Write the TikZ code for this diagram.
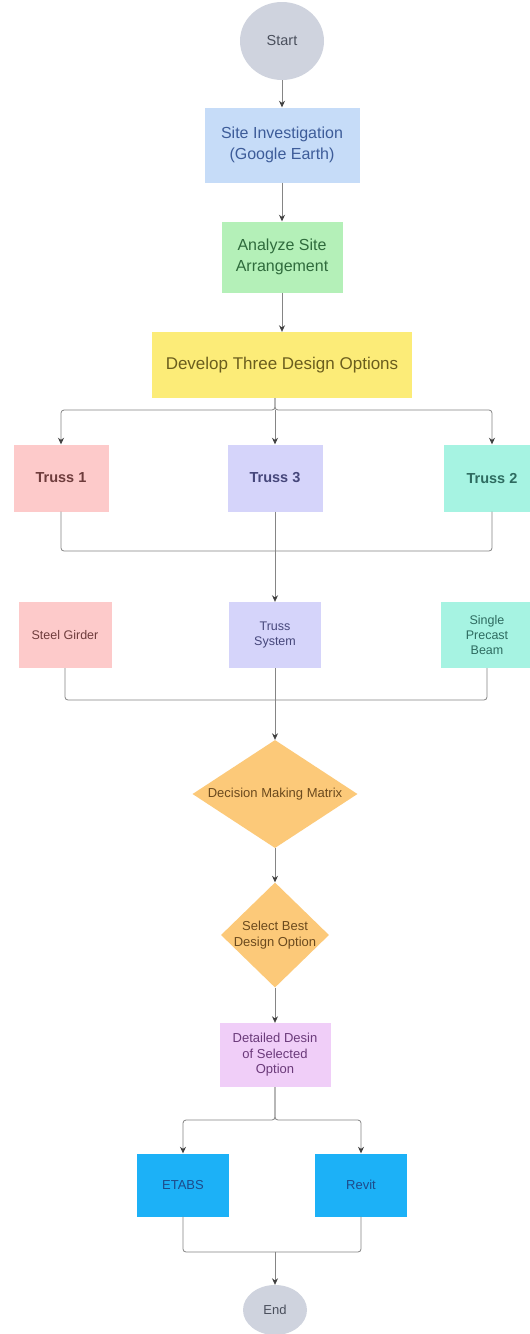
\documentclass[tikz,border=0pt]{standalone}
\usepackage{fontspec}
\setmainfont{Liberation Sans}
\usetikzlibrary{shapes.geometric,arrows.meta}
\definecolor{cgray}{HTML}{CFD3DE}
\definecolor{cblue}{HTML}{C6DCF8}
\definecolor{cgreen}{HTML}{B4F0B8}
\definecolor{cyellow}{HTML}{FCEC78}
\definecolor{cpink}{HTML}{FDCACA}
\definecolor{clav}{HTML}{D5D4FA}
\definecolor{cmint}{HTML}{A6F3E2}
\definecolor{corange}{HTML}{FCC979}
\definecolor{cpurple}{HTML}{F0CEF8}
\definecolor{cbright}{HTML}{1CB1F7}
\definecolor{tgray}{HTML}{4A4F5C}
\definecolor{tblue}{HTML}{3D5C99}
\definecolor{tgreen}{HTML}{2F6B3C}
\definecolor{tyellow}{HTML}{6B5E1E}
\definecolor{tpink}{HTML}{6E3C3C}
\definecolor{tlav}{HTML}{45467A}
\definecolor{tmint}{HTML}{2E6B60}
\definecolor{torange}{HTML}{6B4A1E}
\definecolor{tpurple}{HTML}{6B3A7A}
\definecolor{tbright}{HTML}{1E4A8A}
\definecolor{cline}{HTML}{858585}
\definecolor{ctip}{HTML}{3F3F3F}
\tikzset{
  box/.style={rectangle,draw=none,inner sep=2pt,align=center,font=\fontsize{12.5}{15}\selectfont},
  bigbox/.style={box,font=\fontsize{16}{21}\selectfont},
  trussbox/.style={box,minimum width=95pt,minimum height=67pt,font=\bfseries\fontsize{14.5}{17}\selectfont},
  term/.style={ellipse,draw=none,fill=cgray,text=tgray,inner sep=0pt,font=\fontsize{14.5}{17}\selectfont},
  dia/.style={diamond,draw=none,fill=corange,text=torange,inner sep=0pt,align=center,font=\fontsize{13}{16}\selectfont},
  conn/.style={draw=cline,line width=0.8pt,rounded corners=3pt},
  arr/.style={conn,-{Stealth[length=6.5pt,width=6pt,color=ctip]}}
}
\begin{document}
\begin{tikzpicture}[x=1pt,y=-1pt]
\useasboundingbox (0,0) rectangle (530,1334);
\clip (0,0) rectangle (530,1334);
\fill[white] (0,0) rectangle (530,1334);
% nodes
\node[term,minimum width=84pt,minimum height=78pt] (start) at (282,41) {Start};
\node[bigbox,fill=cblue,text=tblue,minimum width=155pt,minimum height=75pt] (site) at (282,145) {Site Investigation\\(Google Earth)};
\node[bigbox,fill=cgreen,text=tgreen,minimum width=121pt,minimum height=71pt] (ana) at (282,257) {Analyze Site\\Arrangement};
\node[box,fill=cyellow,text=tyellow,minimum width=260pt,minimum height=66pt,font=\fontsize{17}{20}\selectfont] (dev) at (282,365) {Develop Three Design Options};
\coordinate (b1) at (275,410);
\node[trussbox,fill=cpink,text=tpink] (t1) at (61,478) {Truss 1};
\node[trussbox,fill=clav,text=tlav] (t3) at (275,478) {Truss 3};
\node[trussbox,fill=cmint,text=tmint,minimum width=97pt] (t2) at (492,478) {Truss 2};
\coordinate (m1) at (275,551);
\node[box,fill=cpink,text=tpink,minimum width=93pt,minimum height=66pt] (r1) at (65,635) {Steel Girder};
\node[box,fill=clav,text=tlav,minimum width=92pt,minimum height=66pt] (r3) at (275,635) {Truss\\System};
\node[box,fill=cmint,text=tmint,minimum width=92pt,minimum height=66pt] (r2) at (487,635) {Single\\Precast\\Beam};
\coordinate (m2) at (275,700);
\node[dia,minimum width=165pt,minimum height=108pt] (d1) at (275,794) {\makebox[0pt]{Decision Making Matrix}};
\node[dia,minimum width=108pt,minimum height=105pt] (d2) at (275,935) {\makebox[0pt]{\begin{tabular}{@{}c@{}}Select Best\\Design Option\end{tabular}}};
\node[box,fill=cpurple,text=tpurple,minimum width=111pt,minimum height=64pt,font=\fontsize{13}{15.5}\selectfont] (det) at (275,1055) {Detailed Desin\\of Selected\\Option};
\coordinate (s3) at (275,1120);
\node[box,fill=cbright,text=tbright,minimum width=92pt,minimum height=63pt,font=\fontsize{13}{15}\selectfont] (etabs) at (183,1185) {ETABS};
\node[box,fill=cbright,text=tbright,minimum width=92pt,minimum height=63pt,font=\fontsize{13}{15}\selectfont] (revit) at (361,1185) {Revit};
\coordinate (m3) at (275,1252);
\node[term,minimum width=64pt,minimum height=50pt,font=\fontsize{13}{15}\selectfont] (end) at (275,1310) {End};
% connectors
\draw[arr] (start) -- (site);
\draw[arr] (site) -- (ana);
\draw[arr] (ana) -- (dev);
\draw[arr] (dev.south -| b1) -- (b1) -| (t1.north);
\draw[arr] (dev.south -| b1) -- (b1) -| (t2.north);
\draw[arr] (b1) -- (t3.north);
\draw[conn] (t1.south) |- (m1);
\draw[conn] (t2.south) |- (m1);
\draw[arr] (t3.south) -- (r3.north);
\draw[conn] (r1.south) |- (m2);
\draw[conn] (r2.south) |- (m2);
\draw[arr] (r3.south) -- (d1.north);
\draw[arr] (d1.south) -- (d2.north);
\draw[arr] (d2.south) -- (det.north);
\draw[arr] (det.south) -- (s3) -| (etabs.north);
\draw[arr] (det.south) -- (s3) -| (revit.north);
\draw[conn] (etabs.south) |- (m3);
\draw[conn] (revit.south) |- (m3);
\draw[arr] (m3) -- (end.north);
\end{tikzpicture}
\end{document}
